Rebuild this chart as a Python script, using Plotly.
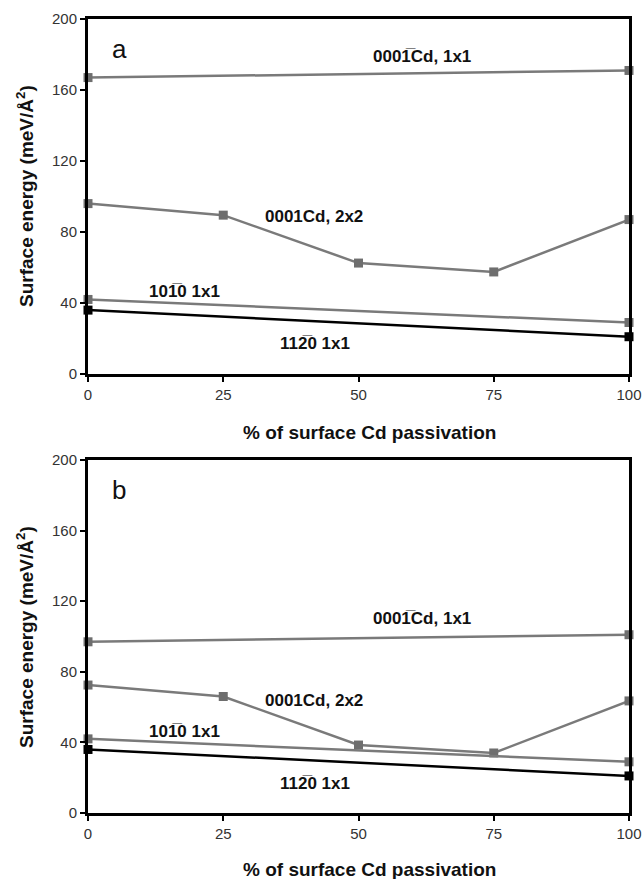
import plotly.graph_objects as go

x_full = [0, 25, 50, 75, 100]
x_ends = [0, 100]

# Panel a
a_0001bar_1x1 = [167, 171]
a_0001_2x2 = [96, 89.5, 62.5, 57.5, 87]
a_1010_1x1 = [42, 29]
a_1120_1x1 = [36, 21]

# Panel b
b_0001bar_1x1 = [97, 101]
b_0001_2x2 = [72.5, 66, 38.5, 34, 63.5]
b_1010_1x1 = [42, 29]
b_1120_1x1 = [36, 21]

x_ticks = [0, 25, 50, 75, 100]
y_ticks = [0, 40, 80, 120, 160, 200]

lbl_0001bar = "0001\u0305Cd, 1x1"
lbl_0001 = "0001Cd, 2x2"
lbl_1010 = "101\u03050 1x1"
lbl_1120 = "112\u03050 1x1"

GRAY = "#7a7a7a"
MGRAY = "#6e6e6e"
BLACK = "#000000"
FONT = "Liberation Sans, Arial, sans-serif"

fig = go.Figure()

def add_panel(xa, ya, s1, s2, s3, s4):
    common = dict(mode="lines+markers", cliponaxis=False, showlegend=False,
                  xaxis=xa, yaxis=ya)
    fig.add_trace(go.Scatter(x=x_ends, y=s1, line=dict(color=GRAY, width=2.5),
                             marker=dict(symbol="square", size=9, color=MGRAY), **common))
    fig.add_trace(go.Scatter(x=x_full, y=s2, line=dict(color=GRAY, width=2.5),
                             marker=dict(symbol="square", size=9, color=MGRAY), **common))
    fig.add_trace(go.Scatter(x=x_ends, y=s3, line=dict(color=GRAY, width=2.5),
                             marker=dict(symbol="square", size=9, color=MGRAY), **common))
    fig.add_trace(go.Scatter(x=x_ends, y=s4, line=dict(color=BLACK, width=2.5),
                             marker=dict(symbol="square", size=9, color=BLACK), **common))

add_panel("x", "y", a_0001bar_1x1, a_0001_2x2, a_1010_1x1, a_1120_1x1)
add_panel("x2", "y2", b_0001bar_1x1, b_0001_2x2, b_1010_1x1, b_1120_1x1)

axis_common = dict(showgrid=False, zeroline=False, showline=True, mirror=True,
                   linecolor="black", linewidth=3, ticks="outside", ticklen=5,
                   tickwidth=2, tickcolor="black", automargin=False,
                   tickfont=dict(family=FONT, size=15, color="#333333"))

fig.update_layout(
    width=643, height=879,
    margin=dict(l=88, r=14, t=19, b=66),
    plot_bgcolor="white", paper_bgcolor="white",
    xaxis=dict(domain=[0, 1], range=[0, 100], tickvals=x_ticks, anchor="y", **axis_common),
    yaxis=dict(domain=[0.5529, 1], range=[0, 200], tickvals=y_ticks, anchor="x", **axis_common),
    xaxis2=dict(domain=[0, 1], range=[0, 100], tickvals=x_ticks, anchor="y2", **axis_common),
    yaxis2=dict(domain=[0, 0.4446], range=[0, 200], tickvals=y_ticks, anchor="x2", **axis_common),
)

lab_font = dict(family=FONT, size=17, color="#111111")
ann = []
def labels(xr, yr, y1, y2, y3, y4, letter):
    c = dict(xref=xr, yref=yr, showarrow=False, xanchor="center", yanchor="middle")
    ann.extend([
        dict(x=61.7, y=y1, text="<b>%s</b>" % lbl_0001bar, font=lab_font, **c),
        dict(x=41.8, y=y2, text="<b>%s</b>" % lbl_0001, font=lab_font, **c),
        dict(x=17.9, y=y3, text="<b>%s</b>" % lbl_1010, font=lab_font, **c),
        dict(x=42, y=y4, text="<b>%s</b>" % lbl_1120, font=lab_font, **c),
        dict(x=5.8, y=183, xref=xr, yref=yr, text=letter, showarrow=False,
             xanchor="center", yanchor="middle",
             font=dict(family=FONT, size=26, color="#111111")),
    ])
labels("x", "y", 178.6, 88.5, 46.2, 17, "a")
labels("x2", "y2", 110, 64, 46, 16.5, "b")

title_font = dict(family=FONT, size=19, color="#111111")
ytitle = "<b>Surface energy (meV/Å<sup>2</sup>)</b>"
xtitle = "<b>% of surface Cd passivation</b>"
tc = dict(xref="paper", yref="paper", showarrow=False, xanchor="center", yanchor="middle",
          font=title_font)
# paper coords: x = (px-88)/541, y = (813-py)/794
ann.extend([
    dict(x=(25 - 88) / 541, y=(813 - 196) / 794, text=ytitle, textangle=-90, **tc),
    dict(x=(25 - 88) / 541, y=(813 - 637) / 794, text=ytitle, textangle=-90, **tc),
    dict(x=(369 - 88) / 541, y=(813 - 432) / 794, text=xtitle, **tc),
    dict(x=(369 - 88) / 541, y=(813 - 869) / 794, text=xtitle, **tc),
])
fig.update_layout(annotations=ann)

fig.write_html("out.html", config={"displayModeBar": False},
               post_script="document.body.style.margin='0';document.body.style.overflow='hidden';")
